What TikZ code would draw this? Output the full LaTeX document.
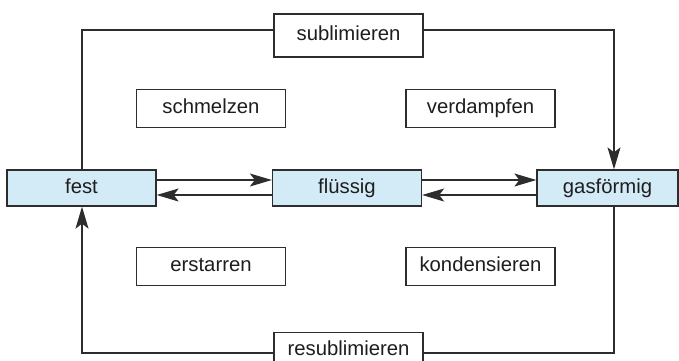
\documentclass[tikz,border=0pt]{standalone}
\usepackage{fontspec}
\setmainfont{Liberation Sans}
\usetikzlibrary{arrows.meta}
\definecolor{boxblue}{RGB}{211,234,247}
\definecolor{edge}{RGB}{45,45,45}
\definecolor{txt}{RGB}{30,30,30}
\begin{document}
\begin{tikzpicture}[x=1pt,y=-1pt,
  every node/.style={font=\fontsize{20.3}{24}\selectfont, text=txt},
  statebox/.style={draw=edge, line width=1.3pt, fill=boxblue, minimum width=149pt, minimum height=36pt, inner sep=0pt, text height=14.5pt, text depth=4pt},
  labelbox/.style={draw=edge, line width=1.1pt, fill=white, minimum width=149pt, inner xsep=0pt, text height=14.5pt, text depth=4pt},
  conn/.style={draw=edge, line width=1.2pt},
  tip/.style={-{Stealth[length=22pt,width=13pt,inset=5pt]}}
]
\useasboundingbox (0,0) rectangle (679,360);
\clip (0,0) rectangle (679,360);
\node[statebox] (fest) at (81.5,188) {fest};
\node[statebox] (fl) at (347,188) {flüssig};
\node[statebox, minimum width=141pt] (gas) at (607.5,188) {gasförmig};

\node[labelbox, minimum height=43pt, inner ysep=0pt] (sub) at (348.5,35.5) {sublimieren};
\node[labelbox, anchor=north, inner ysep=8pt] (resub) at (348.5,332) {resublimieren};

\node[labelbox, minimum height=38pt, inner ysep=0pt] (schm) at (211,108.5) {schmelzen};
\node[labelbox, minimum height=38pt, inner ysep=0pt] (verd) at (480.5,108.5) {verdampfen};
\node[labelbox, minimum height=38pt, inner ysep=0pt] (erst) at (211,266.5) {erstarren};
\node[labelbox, minimum height=38pt, inner ysep=0pt] (kond) at (480.5,266.5) {kondensieren};

\coordinate (tl) at (82,30);
\coordinate (tr) at (614,30);
\coordinate (bl) at (82,353);
\coordinate (br) at (614,353);

% horizontal arrows
\draw[conn, tip] (fest.east |- 0,180) -- (fl.west |- 0,180);
\draw[conn, tip] (fl.west |- 0,195) -- (fest.east |- 0,195);
\draw[conn, tip] (fl.east |- 0,180) -- (gas.west |- 0,180);
\draw[conn, tip] (gas.west |- 0,195) -- (fl.east |- 0,195);

% sublimation
\draw[conn] (fest.north -| tl) -- (tl) -- (sub.west |- tl);
\draw[conn, tip] (sub.east |- tr) -- (tr) -- (gas.north -| tr);

% resublimation
\draw[conn] (gas.south -| br) -- (br) -- (resub.east |- br);
\draw[conn, tip] (resub.west |- bl) -- (bl) -- (fest.south -| bl);
\end{tikzpicture}
\end{document}
